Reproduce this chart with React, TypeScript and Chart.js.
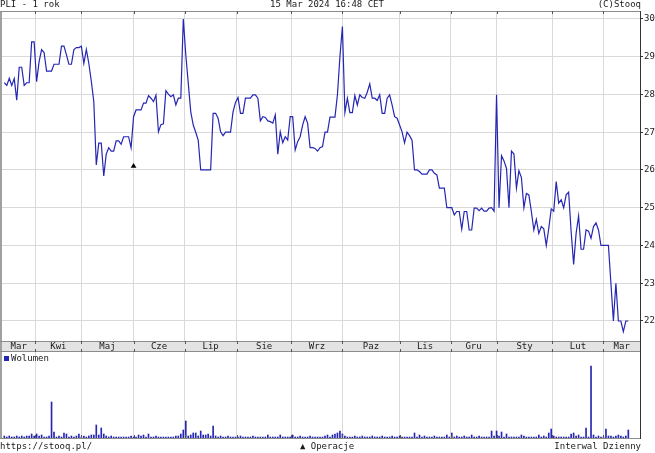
import React, { useEffect, useRef } from "react";
import { Chart, registerables } from "chart.js";

Chart.register(...registerables);

const title = "PLI - 1 rok";
const stamp = "15 Mar 2024 16:48 CET";
const credit = "(C)Stooq";
const footerLeft = "https://stooq.pl/";
const footerMid = "\u25B2 Operacje";
const footerRight = "Interwal Dzienny";
const volumeLabel = "Wolumen";

const monthLabels = ["Mar", "Kwi", "Maj", "Cze", "Lip", "Sie", "Wrz", "Paz", "Lis", "Gru", "Sty", "Lut", "Mar"];
// trading-day position where each new month starts
const monthStarts = [12.5, 31, 52, 72.5, 93.5, 115.5, 136, 159, 179.5, 198, 220.5, 241];
const priceTicks = [22, 23, 24, 25, 26, 27, 28, 29, 30];

// daily close, one value per trading day
const prices = [
  28.31, 28.24, 28.43, 28.24, 28.42, 27.85, 28.72, 28.72, 28.24, 28.31,
  28.31, 29.39, 29.39, 28.34, 28.87, 29.19, 29.11, 28.62, 28.62, 28.62,
  28.8, 28.8, 28.8, 29.28, 29.28, 29.05, 28.8, 28.8, 29.19, 29.24,
  29.24, 29.28, 28.82, 29.19, 28.82, 28.35, 27.81, 26.13, 26.71, 26.71,
  25.84, 26.42, 26.59, 26.5, 26.5, 26.77, 26.77, 26.68, 26.88, 26.88,
  26.88, 26.59, 27.41, 27.59, 27.59, 27.59, 27.77, 27.77, 27.97, 27.9,
  27.81, 27.98, 27.01, 27.2, 27.22, 28.1, 28.01, 27.94, 27.99, 27.72,
  27.9, 27.9, 30.0, 29.05, 28.3, 27.54, 27.19, 27.0, 26.79, 26.0,
  26.0, 26.0, 26.0, 26.0, 27.5, 27.5, 27.37, 27.01, 26.91, 27.0,
  27.0, 27.0, 27.54, 27.79, 27.92, 27.5, 27.5, 27.9, 27.9, 27.9,
  27.99, 27.99, 27.9, 27.3, 27.41, 27.39, 27.3, 27.28, 27.24, 27.46,
  26.42, 27.01, 26.72, 26.88, 26.79, 27.41, 27.41, 26.53, 26.75, 26.88,
  27.19, 27.41, 27.24, 26.59, 26.59, 26.57, 26.5, 26.59, 26.62, 27.0,
  27.0, 27.4, 27.4, 27.4, 27.99, 29.0, 29.8, 27.52, 27.9, 27.52,
  27.52, 27.97, 27.72, 27.99, 27.92, 27.9, 28.06, 28.28, 27.9, 27.9,
  27.84, 27.99, 27.5, 27.5, 27.9, 27.99, 27.72, 27.41, 27.37, 27.19,
  27.01, 26.72, 27.0, 26.91, 26.79, 26.0, 26.0, 25.96, 25.89, 25.89,
  25.89, 26.0, 26.0, 25.91, 25.87, 25.52, 25.52, 25.52, 25.0, 25.0,
  25.0, 24.81, 24.9, 24.9, 24.43, 24.9, 24.9, 24.41, 24.41, 24.99,
  24.99, 24.92, 24.99, 24.91, 24.91, 24.99, 25.0, 24.91, 27.99, 25.0,
  26.38, 26.24, 26.04, 25.0, 26.5, 26.42, 25.52, 25.98, 25.8, 25.0,
  25.38, 25.34, 24.9, 24.41, 24.69, 24.32, 24.5, 24.44, 24.0, 24.45,
  24.97, 24.91, 25.69, 25.12, 25.21, 25.0, 25.34, 25.41, 24.37, 23.5,
  24.32, 24.78, 23.9, 23.9, 24.41, 24.38, 24.19, 24.5, 24.6, 24.41,
  24.0, 24.0, 24.0, 24.0, 23.0, 22.0, 23.0, 22.0, 22.0, 21.72,
  22.0, 22.0,
];

// daily volume (thousands), one value per trading day
const volumes = [
  2, 1, 2, 1, 1, 2, 1, 2, 1, 2,
  2, 4, 2, 4, 2, 3, 1, 1, 2, 36,
  6, 1, 2, 1, 5, 4, 1, 2, 1, 2,
  4, 1, 2, 1, 2, 3, 3, 13, 3, 10,
  4, 2, 1, 2, 1, 1, 1, 1, 1, 1,
  1, 2, 1, 1, 3, 2, 3, 1, 4, 1,
  1, 2, 1, 1, 1, 1, 1, 1, 1, 2,
  2, 4, 8, 17, 2, 3, 5, 5, 2, 7,
  3, 3, 4, 2, 12, 2, 1, 2, 1, 1,
  2, 1, 1, 1, 1, 2, 1, 1, 1, 1,
  2, 1, 1, 1, 1, 1, 3, 1, 1, 1,
  1, 3, 1, 1, 1, 1, 3, 1, 1, 2,
  1, 1, 1, 2, 1, 1, 1, 1, 1, 2,
  3, 1, 3, 4, 5, 7, 4, 2, 1, 1,
  1, 2, 1, 1, 2, 1, 1, 1, 2, 1,
  1, 1, 2, 1, 1, 1, 2, 1, 1, 2,
  1, 1, 1, 1, 1, 5, 1, 3, 1, 2,
  1, 1, 1, 2, 1, 1, 1, 1, 3, 1,
  5, 1, 2, 1, 1, 2, 1, 1, 3, 1,
  1, 2, 1, 1, 1, 1, 7, 2, 7, 2,
  6, 1, 4, 1, 1, 1, 1, 1, 3, 2,
  1, 1, 1, 1, 1, 3, 1, 2, 1, 5,
  9, 2, 1, 1, 1, 1, 1, 1, 4, 5,
  2, 3, 1, 1, 10, 1, 72, 3, 1, 2,
  1, 1, 9, 2, 2, 1, 2, 3, 2, 1,
  2, 8,
];

const operationDays = [52];
const operationMarks = [26.1];

const X_MIN = -0.925;
const X_MAX = 255.7;
const PRICE_MIN = 21.47;
const PRICE_MAX = 30.21;
const VOL_MAX = 86;

const FONT = '9px "DejaVu Sans Mono"';
const TEXT = "#1a1a1a";
const GRID = "#d9d9d9";
const LINE = "#2626b4";
const FRAME = "#8c8c8c";

function drawMonthTicks(ctx: CanvasRenderingContext2D, scale: any, y: number, len: number) {
  ctx.save();
  ctx.strokeStyle = "#555";
  ctx.lineWidth = 1;
  ctx.beginPath();
  monthStarts.forEach((m) => {
    const x = Math.round(scale.getPixelForValue(m)) + 0.5;
    ctx.moveTo(x, y);
    ctx.lineTo(x, y + len);
  });
  ctx.stroke();
  ctx.restore();
}

const pricePlugin = {
  id: "pricePlugin",
  afterDraw(chart: any) {
    const ctx: CanvasRenderingContext2D = chart.ctx;
    const ca = chart.chartArea;
    const xs = chart.scales.x;
    ctx.save();
    // header
    ctx.font = FONT;
    ctx.fillStyle = TEXT;
    ctx.textBaseline = "middle";
    ctx.textAlign = "left";
    ctx.fillText(title, 0, 4.5);
    ctx.textAlign = "center";
    ctx.fillText(stamp, 327, 4.5);
    ctx.textAlign = "right";
    ctx.fillText(credit, 641, 4.5);

    // left strip
    ctx.fillStyle = "#a0a0a0";
    ctx.fillRect(0, ca.top, 2, ca.bottom - ca.top + 11);

    // top border
    ctx.strokeStyle = FRAME;
    ctx.lineWidth = 1;
    ctx.beginPath();
    ctx.moveTo(0, ca.top + 0.5);
    ctx.lineTo(ca.right, ca.top + 0.5);
    ctx.stroke();
    drawMonthTicks(ctx, xs, ca.top, 3);

    // month band
    const bTop = ca.bottom;
    const bH = 11;
    ctx.fillStyle = "#e3e3e3";
    ctx.fillRect(2, bTop, ca.right - 2, bH);
    ctx.strokeStyle = FRAME;
    ctx.beginPath();
    ctx.moveTo(0, bTop + 0.5);
    ctx.lineTo(ca.right, bTop + 0.5);
    ctx.moveTo(0, bTop + bH - 0.5);
    ctx.lineTo(ca.right, bTop + bH - 0.5);
    ctx.stroke();
    drawMonthTicks(ctx, xs, bTop, 3);
    drawMonthTicks(ctx, xs, bTop + bH - 3, 3);

    ctx.fillStyle = TEXT;
    ctx.textAlign = "center";
    ctx.textBaseline = "middle";
    const bounds = [ca.left, ...monthStarts.map((m) => xs.getPixelForValue(m)), ca.right];
    monthLabels.forEach((lab, i) => {
      const cx = (bounds[i] + bounds[i + 1]) / 2;
      ctx.fillText(lab, cx, bTop + bH / 2 + 0.5);
    });

    // right border across band
    ctx.strokeStyle = "#333";
    ctx.beginPath();
    ctx.moveTo(ca.right + 0.5, ca.top);
    ctx.lineTo(ca.right + 0.5, bTop + bH);
    ctx.stroke();
    ctx.restore();
  },
};

const volumePlugin = {
  id: "volumePlugin",
  afterDraw(chart: any) {
    const ctx: CanvasRenderingContext2D = chart.ctx;
    const ca = chart.chartArea;
    const xs = chart.scales.x;
    ctx.save();
    ctx.fillStyle = "#a0a0a0";
    ctx.fillRect(0, 0, 2, ca.bottom);

    ctx.strokeStyle = "#333";
    ctx.lineWidth = 1;
    ctx.beginPath();
    ctx.moveTo(ca.right + 0.5, 0);
    ctx.lineTo(ca.right + 0.5, ca.bottom + 1);
    ctx.stroke();

    ctx.strokeStyle = FRAME;
    ctx.beginPath();
    ctx.moveTo(0, ca.bottom + 0.5);
    ctx.lineTo(ca.right, ca.bottom + 0.5);
    ctx.stroke();
    drawMonthTicks(ctx, xs, ca.bottom - 3, 3);

    // legend
    ctx.fillStyle = LINE;
    ctx.fillRect(4, 4, 5, 5);
    ctx.font = FONT;
    ctx.fillStyle = TEXT;
    ctx.textBaseline = "middle";
    ctx.textAlign = "left";
    ctx.fillText(volumeLabel, 11, 6.5);

    // footer
    const fy = ca.bottom + 8.5;
    ctx.fillText(footerLeft, 0, fy);
    ctx.textAlign = "center";
    ctx.fillText(footerMid, 327, fy);
    ctx.textAlign = "right";
    ctx.fillText(footerRight, 641, fy);
    ctx.restore();
  },
};

export default function App() {
  const priceRef = useRef<HTMLCanvasElement | null>(null);
  const volRef = useRef<HTMLCanvasElement | null>(null);

  useEffect(() => {
    if (!priceRef.current || !volRef.current) return;

    const monthTicks = (scale: any) => {
      scale.ticks = monthStarts.map((v) => ({ value: v }));
    };

    const priceChart = new Chart(priceRef.current, {
      type: "line",
      data: {
        datasets: [
          {
            data: prices.map((p, i) => ({ x: i, y: p })),
            borderColor: LINE,
            borderWidth: 1.2,
            pointRadius: 0,
            tension: 0,
            fill: false,
          },
          {
            data: operationDays.map((d, i) => ({ x: d, y: operationMarks[i] })),
            showLine: false,
            pointStyle: "triangle",
            pointRadius: 3.3,
            pointBackgroundColor: "#000",
            pointBorderColor: "#000",
            pointBorderWidth: 0,
          },
        ],
      },
      options: {
        animation: false,
        responsive: false,
        devicePixelRatio: 1,
        events: [],
        layout: { padding: { left: 2, top: 11, right: 0, bottom: 0 }, autoPadding: false },
        plugins: { legend: { display: false }, tooltip: { enabled: false } },
        scales: {
          x: {
            type: "linear",
            min: X_MIN,
            max: X_MAX,
            afterBuildTicks: monthTicks,
            afterFit: (s: any) => {
              s.height = 11;
            },
            ticks: { display: false },
            grid: { color: GRID, drawTicks: false },
            border: { display: false },
          },
          y: {
            position: "right",
            min: PRICE_MIN,
            max: PRICE_MAX,
            afterBuildTicks: (s: any) => {
              s.ticks = priceTicks.map((v) => ({ value: v }));
            },
            afterFit: (s: any) => {
              s.width = 15;
            },
            ticks: {
              color: TEXT,
              font: { family: "DejaVu Sans Mono", size: 9 },
              padding: 1,
              callback: (v: any) => String(v),
            },
            grid: { color: GRID, tickColor: "#333", tickLength: 3 },
            border: { display: true, color: "#333", width: 1 },
          },
        },
      },
      plugins: [pricePlugin],
    } as any);

    const volChart = new Chart(volRef.current, {
      type: "bar",
      data: {
        datasets: [
          {
            data: volumes.map((v, i) => ({ x: i, y: v })),
            backgroundColor: LINE,
            barThickness: 1,
            borderWidth: 0,
          },
        ],
      },
      options: {
        animation: false,
        responsive: false,
        devicePixelRatio: 1,
        events: [],
        layout: { padding: { left: 2, top: 0, right: 15, bottom: 15 }, autoPadding: false },
        plugins: { legend: { display: false }, tooltip: { enabled: false } },
        scales: {
          x: {
            type: "linear",
            min: X_MIN,
            max: X_MAX,
            offset: false,
            afterBuildTicks: monthTicks,
            afterFit: (s: any) => {
              s.height = 0;
            },
            ticks: { display: false },
            grid: { color: GRID, drawTicks: false, offset: false },
            border: { display: false },
          },
          y: {
            display: false,
            min: 0,
            max: VOL_MAX,
          },
        },
      },
      plugins: [volumePlugin],
    } as any);

    return () => {
      priceChart.destroy();
      volChart.destroy();
    };
  }, []);

  return (
    <div style={{ position: "absolute", left: 0, top: 0, width: 655, height: 453, background: "#fff" }}>
      <canvas ref={priceRef} width={655} height={352} style={{ position: "absolute", left: 0, top: 0, width: 655, height: 352 }} />
      <canvas ref={volRef} width={655} height={101} style={{ position: "absolute", left: 0, top: 352, width: 655, height: 101 }} />
    </div>
  );
}
